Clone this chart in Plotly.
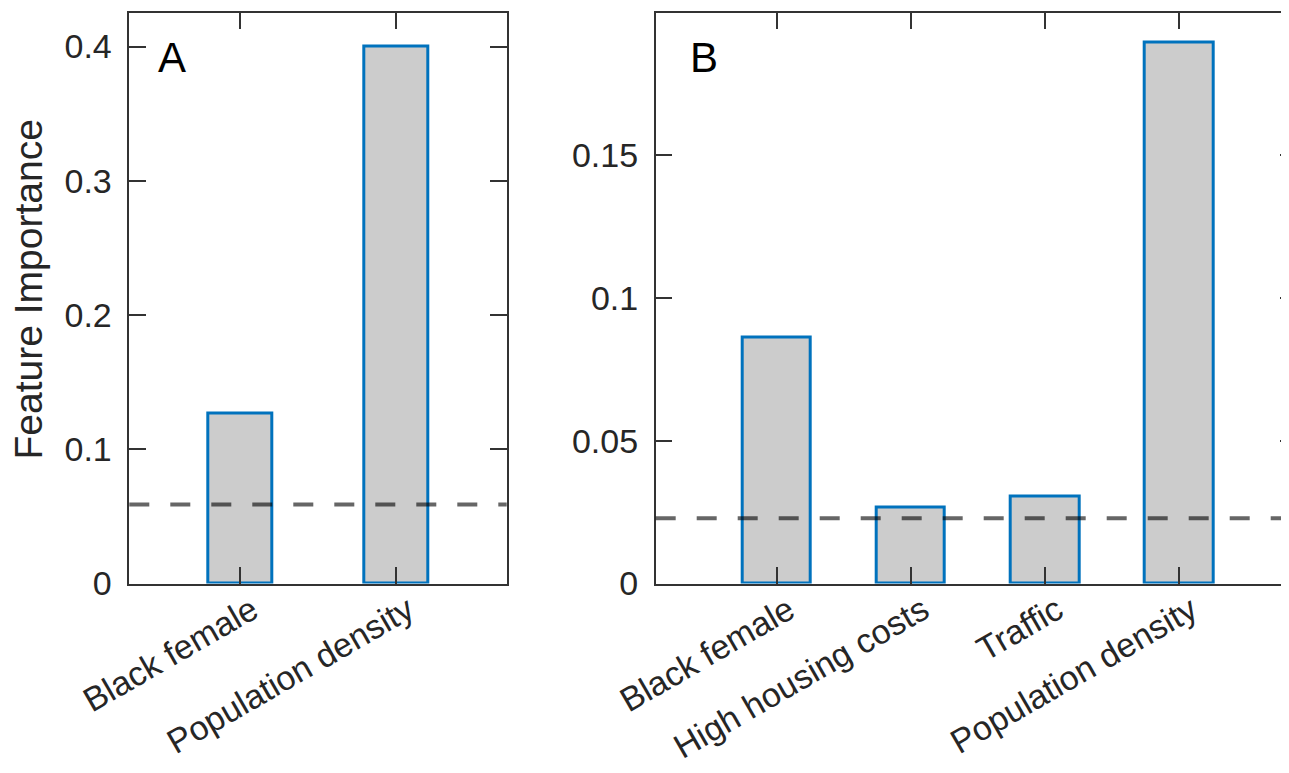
import plotly.graph_objects as go

# ---- data ----
cats_a = ["Black female", "Population density"]
vals_a = [0.1264, 0.400]
thresh_a = 0.0588

cats_b = ["Black female", "High housing costs", "Traffic", "Population density"]
vals_b = [0.0860, 0.0265, 0.0303, 0.1893]
thresh_b = 0.0228

yticks_a = [0, 0.1, 0.2, 0.3, 0.4]
yticks_b = [0, 0.05, 0.1, 0.15]

W, H = 1289, 773
OFF = 8  # page body margin
FONT = "Liberation Sans, Arial, Helvetica, sans-serif"
TXT = "#262626"
AX = "#333333"
BAR_FILL = "#cccccc"
BAR_EDGE = "#0072BD"


def px(x):
    return (x - OFF) / W


def py(y):
    return 1 - (y - OFF) / H


pos_a = list(range(1, len(cats_a) + 1))
pos_b = list(range(1, len(cats_b) + 1))

fig = go.Figure()
fig.add_trace(go.Bar(x=pos_a, y=vals_a, width=0.41, xaxis="x", yaxis="y",
                     marker=dict(color=BAR_FILL, line=dict(color=BAR_EDGE, width=3)),
                     showlegend=False))
fig.add_trace(go.Bar(x=pos_b, y=vals_b, width=0.51, xaxis="x2", yaxis="y2",
                     marker=dict(color=BAR_FILL, line=dict(color=BAR_EDGE, width=3)),
                     showlegend=False))


def fmt(v):
    return "0" if v == 0 else ("%g" % v)


common_axis = dict(showline=True, linecolor=AX, linewidth=1.5, mirror="ticks",
                   ticks="inside", ticklen=17, tickwidth=1.5, tickcolor=AX,
                   showgrid=False, zeroline=False, automargin=False,
                   tickfont=dict(family=FONT, size=34, color=TXT))

y_dom = [py(583.5), py(12.5)]

fig.update_layout(
    template="none",
    width=W, height=H,
    margin=dict(l=0, r=0, t=0, b=0, pad=0),
    paper_bgcolor="white", plot_bgcolor="white",
    bargap=0,
    xaxis=dict(domain=[px(129.3), px(506.7)], range=[0.29, 2.71],
               tickvals=pos_a, ticktext=cats_a, tickangle=-30, anchor="y",
               ticklabelshift=12, ticklabelstandoff=-8, **common_axis),
    yaxis=dict(domain=y_dom, range=[0, 0.4254], tickvals=yticks_a,
               ticktext=[fmt(v) for v in yticks_a], anchor="x",
               ticklabelstandoff=9, **common_axis),
    xaxis2=dict(domain=[px(655.7), 1.0], range=[0.0984, 4.877],
                tickvals=pos_b, ticktext=cats_b, tickangle=-30, anchor="y2",
                ticklabelshift=12, ticklabelstandoff=-8, **common_axis),
    yaxis2=dict(domain=y_dom, range=[0, 0.1999], tickvals=yticks_b,
                ticktext=[fmt(v) for v in yticks_b], anchor="x2",
                ticklabelstandoff=9, **common_axis),
    shapes=[
        dict(type="line", xref="x domain", yref="y", x0=0, x1=1,
             y0=thresh_a, y1=thresh_a,
             line=dict(color="rgba(0,0,0,0.6)", width=4, dash="20px,21px")),
        dict(type="line", xref="x2 domain", yref="y2", x0=0, x1=1,
             y0=thresh_b, y1=thresh_b,
             line=dict(color="rgba(0,0,0,0.6)", width=4, dash="20px,21px")),
    ],
    annotations=[
        dict(text="A", xref="paper", yref="paper", x=px(156), y=py(58),
             xanchor="left", yanchor="middle", showarrow=False,
             font=dict(family=FONT, size=42, color="black")),
        dict(text="B", xref="paper", yref="paper", x=px(688), y=py(58),
             xanchor="left", yanchor="middle", showarrow=False,
             font=dict(family=FONT, size=42, color="black")),
        dict(text="Feature Importance", xref="paper", yref="paper",
             x=px(27.5), y=py(290), xanchor="center", yanchor="middle",
             textangle=-90, showarrow=False,
             font=dict(family=FONT, size=39, color=TXT)),
    ],
)

fig.write_html("out.html")
